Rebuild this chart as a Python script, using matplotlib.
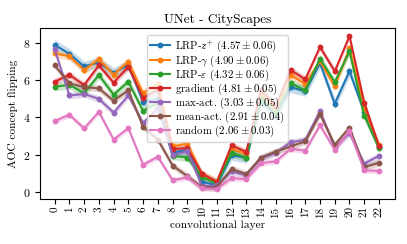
import numpy as np
import matplotlib
matplotlib.use('Agg')
import matplotlib.pyplot as plt

plt.rcParams['font.family'] = 'serif'
plt.rcParams['font.serif'] = ['cmr10']
plt.rcParams['mathtext.fontset'] = 'cm'
plt.rcParams['axes.unicode_minus'] = False
plt.rcParams['axes.formatter.use_mathtext'] = True

layers = list(range(23))

lrp_zplus = [7.9, 7.42, 6.74, 6.95, 6.39, 6.82, 4.85, 5.0, 2.12, 2.25, 0.55, 0.37, 1.98, 1.83,
             4.9, 4.1, 5.62, 5.42, 6.92, 4.74, 6.48, 4.3, 2.4]
lrp_gamma = [7.44, 7.29, 6.55, 7.12, 6.3, 7.0, 5.3, 5.8, 2.45, 2.6, 0.95, 0.5, 2.3, 2.05,
             5.3, 4.5, 6.28, 5.8, 7.02, 5.68, 7.72, 4.5, 2.5]
lrp_eps = [5.65, 5.75, 5.3, 6.28, 5.22, 5.92, 4.35, 4.8, 1.95, 1.85, 0.8, 0.45, 2.1, 1.85,
           5.0, 4.2, 5.85, 5.45, 7.16, 5.9, 7.55, 4.1, 2.35]
gradient = [5.92, 6.29, 5.74, 6.8, 5.87, 6.72, 5.05, 5.5, 2.3, 2.35, 0.98, 0.55, 2.5, 2.15,
            5.5, 4.6, 6.55, 6.05, 7.78, 6.48, 8.37, 4.8, 2.45]
max_act = [7.67, 5.18, 5.26, 5.0, 4.26, 5.18, 3.7, 4.5, 1.98, 2.2, 0.3, 0.35, 1.1, 0.9,
           1.8, 2.1, 2.67, 2.8, 4.35, 2.39, 3.15, 1.52, 1.94]
mean_act = [6.8, 5.83, 5.63, 5.56, 4.9, 5.46, 3.5, 2.81, 1.42, 0.85, 0.25, 0.25, 1.24, 0.96,
            1.85, 2.17, 2.44, 2.72, 4.17, 2.53, 3.46, 1.33, 1.57]
random_ = [3.8, 4.15, 3.41, 4.3, 2.81, 3.43, 1.46, 1.89, 0.63, 0.78, 0.19, 0.17, 0.74, 0.69,
           1.54, 1.65, 2.31, 2.22, 3.58, 2.26, 3.28, 1.16, 1.13]

labels = [r'LRP-$z^{+}$ $(4.57 \pm 0.06)$',
          r'LRP-$\gamma$ $(4.90 \pm 0.06)$',
          r'LRP-$\varepsilon$ $(4.32 \pm 0.06)$',
          r'gradient $(4.81 \pm 0.05)$',
          r'max-act. $(3.03 \pm 0.05)$',
          r'mean-act. $(2.91 \pm 0.04)$',
          r'random $(2.06 \pm 0.03)$']
band = [0.28, 0.22, 0.22, 0.18, 0.18, 0.18, 0.15]

series = [lrp_zplus, lrp_gamma, lrp_eps, gradient, max_act, mean_act, random_]

fig, ax = plt.subplots(figsize=(4.07, 2.44), dpi=100)
for i, (vals, lab, b) in enumerate(zip(series, labels, band)):
    v = np.array(vals)
    c = 'C%d' % i
    ax.fill_between(layers, v - b, v + b, color=c, alpha=0.25, linewidth=0)
    ax.plot(layers, v, color=c, marker='o', markersize=3.2, linewidth=1.5, label=lab)

ax.set_xlim(-1.0, 23.1)
ax.set_ylim(-0.37, 8.8)
ax.set_xticks(layers)
ax.set_xticklabels([str(l) for l in layers], rotation=90, fontsize=8)
ax.set_yticks([0, 2, 4, 6, 8])
ax.tick_params(axis='y', labelsize=8.5)
ax.tick_params(axis='x', pad=2)
ax.set_xlabel('convolutional layer', fontsize=8.2, labelpad=2)
ax.set_ylabel('AOC concept flipping', fontsize=8.2, labelpad=3)
ax.set_title('UNet - CityScapes', fontsize=9.5, pad=4)
ax.legend(loc='upper center', bbox_to_anchor=(0.5, 0.99), fontsize=7.8,
          handlelength=1.8, labelspacing=-0.12, borderpad=0.3, handletextpad=0.5)

fig.subplots_adjust(left=0.098, right=0.971, top=0.885, bottom=0.185)
fig.savefig('out.png', dpi=100)
